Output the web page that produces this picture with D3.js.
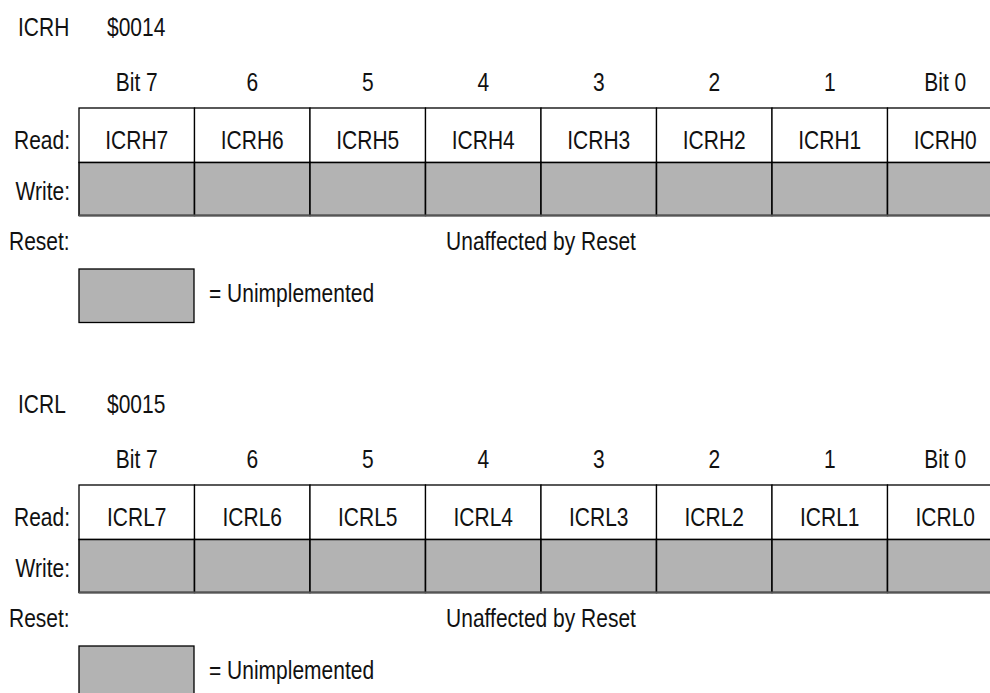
<!DOCTYPE html>
<html>
<head>
<meta charset="utf-8">
<script src="https://cdn.jsdelivr.net/npm/d3@7"></script>
<style>
html,body{margin:0;padding:0;background:#fff;}
svg{display:block;}
text{font-family:"Liberation Sans",Arial,sans-serif;font-size:25px;fill:#111;}
</style>
</head>
<body>
<svg id="chart" width="990" height="693"></svg>
<script>
const registerNames = ["ICRH", "ICRL"];
const registerAddresses = ["$0014", "$0015"];
const bitLabels = ["Bit 7", "6", "5", "4", "3", "2", "1", "Bit 0"];
const icrhReadLabels = ["ICRH7", "ICRH6", "ICRH5", "ICRH4", "ICRH3", "ICRH2", "ICRH1", "ICRH0"];
const icrlReadLabels = ["ICRL7", "ICRL6", "ICRL5", "ICRL4", "ICRL3", "ICRL2", "ICRL1", "ICRL0"];
const readLabels = [icrhReadLabels, icrlReadLabels];
const resetText = ["Unaffected by Reset", "Unaffected by Reset"];
const legendText = "= Unimplemented";

const svg = d3.select("#chart");
const cellW = 115.5;
const SX = 0.84;
const x = d3.scaleBand().domain(d3.range(8)).range([79, 79 + 8 * cellW]).padding(0);
const offsets = d3.scaleOrdinal().domain([0, 1]).range([0, 377]);

function label(g, tx, ty, str, anchor) {
  return g.append("text")
    .attr("transform", `translate(${tx},${ty}) scale(${SX},1)`)
    .attr("text-anchor", anchor || "start")
    .text(str);
}

registerNames.forEach((name, r) => {
  const g = svg.append("g").attr("transform", `translate(0,${offsets(r)})`);
  label(g, 18, 36, name);
  label(g, 107, 36, registerAddresses[r]);

  g.selectAll("text.bit").data(bitLabels).join("text")
    .attr("class", "bit")
    .attr("transform", (d, i) => `translate(${x(i) + x.bandwidth() / 2},91) scale(${SX},1)`)
    .attr("text-anchor", "middle").text(d => d);

  const readTop = 108, rowSplit = 162.5, bottom = 215.5;
  g.selectAll("rect.read").data(readLabels[r]).join("rect")
    .attr("class", "read")
    .attr("x", (d, i) => x(i)).attr("y", readTop)
    .attr("width", x.bandwidth()).attr("height", rowSplit - readTop)
    .attr("fill", "#fff").attr("stroke", "#000").attr("stroke-width", 1.3);
  g.selectAll("rect.write").data(readLabels[r]).join("rect")
    .attr("class", "write")
    .attr("x", (d, i) => x(i)).attr("y", rowSplit)
    .attr("width", x.bandwidth()).attr("height", bottom - rowSplit)
    .attr("fill", "#b3b3b3").attr("stroke", "#000").attr("stroke-width", 1.5);
  g.append("line").attr("x1", 79).attr("x2", 79 + 8 * cellW)
    .attr("y1", bottom).attr("y2", bottom).attr("stroke", "#555").attr("stroke-width", 2);

  g.selectAll("text.read").data(readLabels[r]).join("text")
    .attr("class", "read")
    .attr("transform", (d, i) => `translate(${x(i) + x.bandwidth() / 2},149) scale(${SX},1)`)
    .attr("text-anchor", "middle").text(d => d);

  label(g, 70, 149, "Read:", "end");
  label(g, 70, 200, "Write:", "end");
  label(g, 9, 250, "Reset:");
  label(g, 79 + 4 * cellW, 250, resetText[r], "middle");

  g.append("rect").attr("x", 79).attr("y", 269).attr("width", 115).attr("height", 53.5)
    .attr("fill", "#b3b3b3").attr("stroke", "#000").attr("stroke-width", 1.3);
  label(g, 209, 302, legendText);
});
</script>
</body>
</html>
